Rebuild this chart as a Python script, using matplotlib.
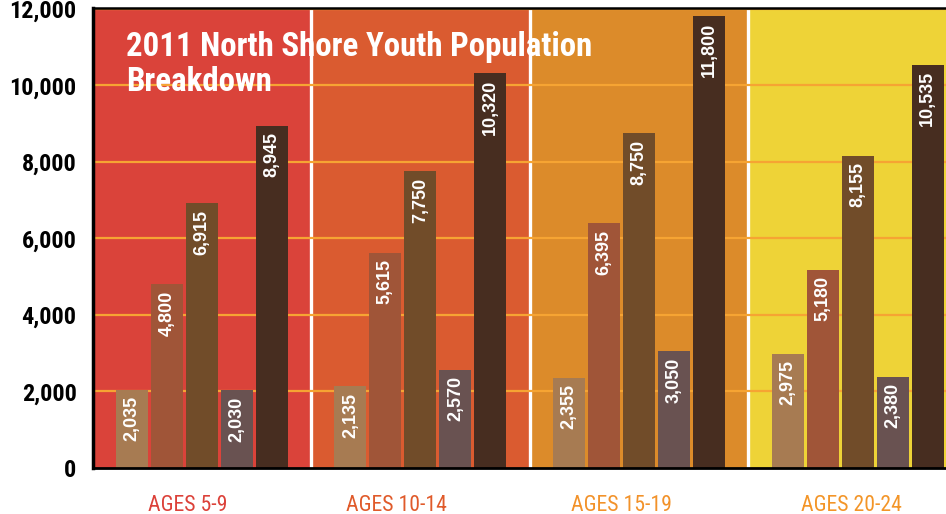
import matplotlib
matplotlib.use("Agg")
import matplotlib.pyplot as plt
from matplotlib import font_manager
from matplotlib.font_manager import FontProperties
from matplotlib.textpath import TextPath
import numpy as np

# ---- data ----
categories = ["AGES 5-9", "AGES 10-14", "AGES 15-19", "AGES 20-24"]
series_1 = [2035, 2135, 2355, 2975]
series_2 = [4800, 5615, 6395, 5180]
series_3 = [6915, 7750, 8750, 8155]
series_4 = [2030, 2570, 3050, 2380]
series_5 = [8945, 10320, 11800, 10535]
y_ticks = [0, 2000, 4000, 6000, 8000, 10000, 12000]
title_lines = ["2011 North Shore Youth Population", "Breakdown"]

# ---- style ----
panel_colors = ["#DA433A", "#DA5B30", "#DC8B2A", "#EED337"]
label_colors = ["#DC4139", "#E05A2A", "#F2922A", "#F39528"]
bar_colors = ["#A77B52", "#A05538", "#714C29", "#695251", "#472D20"]
grid_color = "#F6A433"
label_offsets = [-0.064, -0.108, -0.08, -0.03]


def pick_family(cands):
    names = {f.name for f in font_manager.fontManager.ttflist}
    for c in cands:
        if c in names:
            return c
    return "DejaVu Sans"


narrow = pick_family(["Liberation Sans Narrow", "Roboto Condensed", "DejaVu Sans Condensed",
                      "Open Sans Condensed", "Roboto", "Liberation Sans"])
sans = pick_family(["Liberation Sans", "DejaVu Sans"])


def fit_size(text, family, weight, target_px, base=20.0):
    tp = TextPath((0, 0), text, size=base, prop=FontProperties(family=family, weight=weight))
    w_pt = tp.get_extents().width
    w_px = w_pt * 100.0 / 72.0
    return base * target_px / w_px


W, H = 946, 514
fig = plt.figure(figsize=(W / 100, H / 100), dpi=100)
left_px, top_px, bottom_px = 92.5, 8, 468
ax = fig.add_axes([left_px / W, (H - bottom_px) / H, (W - left_px) / W, (bottom_px - top_px) / H])

n = len(categories)
x = np.arange(n)
ax.set_xlim(-0.5, -0.5 + (W - left_px) / 218.6)
ax.set_ylim(0, 12020)

# panels
for i in range(n):
    ax.axvspan(i - 0.5, i + 0.5, color=panel_colors[i], zorder=0, lw=0)
for i in range(n - 1):
    ax.axvline(i + 0.5, color="white", lw=2.4, zorder=1)

# grid
for t in y_ticks[1:]:
    ax.axhline(t, color=grid_color, lw=1.6, zorder=2)

series = [series_1, series_2, series_3, series_4, series_5]
bw = 0.146
step = 0.160
val_fs = min(13.0, fit_size("8,945", sans, "bold", 45))
for k, s in enumerate(series):
    xs = x + (k - 2) * step
    ax.bar(xs, s, width=bw, color=bar_colors[k], zorder=3, lw=0)
    for xi, v in zip(xs, s):
        ax.annotate(f"{v:,}", (xi, v), xytext=(0, -4.5), textcoords="offset points",
                    ha="center", va="top", rotation=90, color="white",
                    fontsize=val_fs, fontweight="bold", family=sans, zorder=4)

# axes styling
tick_fs = min(17.5, fit_size("12,000", narrow, "bold", 69))
ax.set_yticks(y_ticks)
ax.set_yticklabels([f"{t:,}" for t in y_ticks], fontsize=tick_fs, fontweight="bold", family=narrow)
ax.tick_params(axis="y", length=0, pad=11.5)
ax.set_xticks([])
ax.spines["right"].set_visible(False)
ax.spines["left"].set_linewidth(2.5)
ax.spines["bottom"].set_linewidth(2.0)
ax.spines["top"].set_linewidth(1.8)
for sp in ["left", "bottom", "top"]:
    ax.spines[sp].set_color("black")
    ax.spines[sp].set_zorder(5)

# category labels
cat_fs = min(16.5, fit_size("AGES 10-14", narrow, "normal", 100))
for i, c in enumerate(categories):
    ax.text(i + label_offsets[i], -0.093, c, transform=ax.get_xaxis_transform(),
            ha="center", va="baseline", fontsize=cat_fs, color=label_colors[i], family=narrow)

# title
title_fs = min(24.0, fit_size(title_lines[0], narrow, "bold", 463))
fig.text(126 / W, 1 - 56 / H, title_lines[0], color="white", fontsize=title_fs, fontweight="bold",
         family=narrow, va="baseline", ha="left", zorder=10)
fig.text(126 / W, 1 - 91 / H, title_lines[1], color="white", fontsize=title_fs, fontweight="bold",
         family=narrow, va="baseline", ha="left", zorder=10)

fig.savefig("out.png", dpi=100)
